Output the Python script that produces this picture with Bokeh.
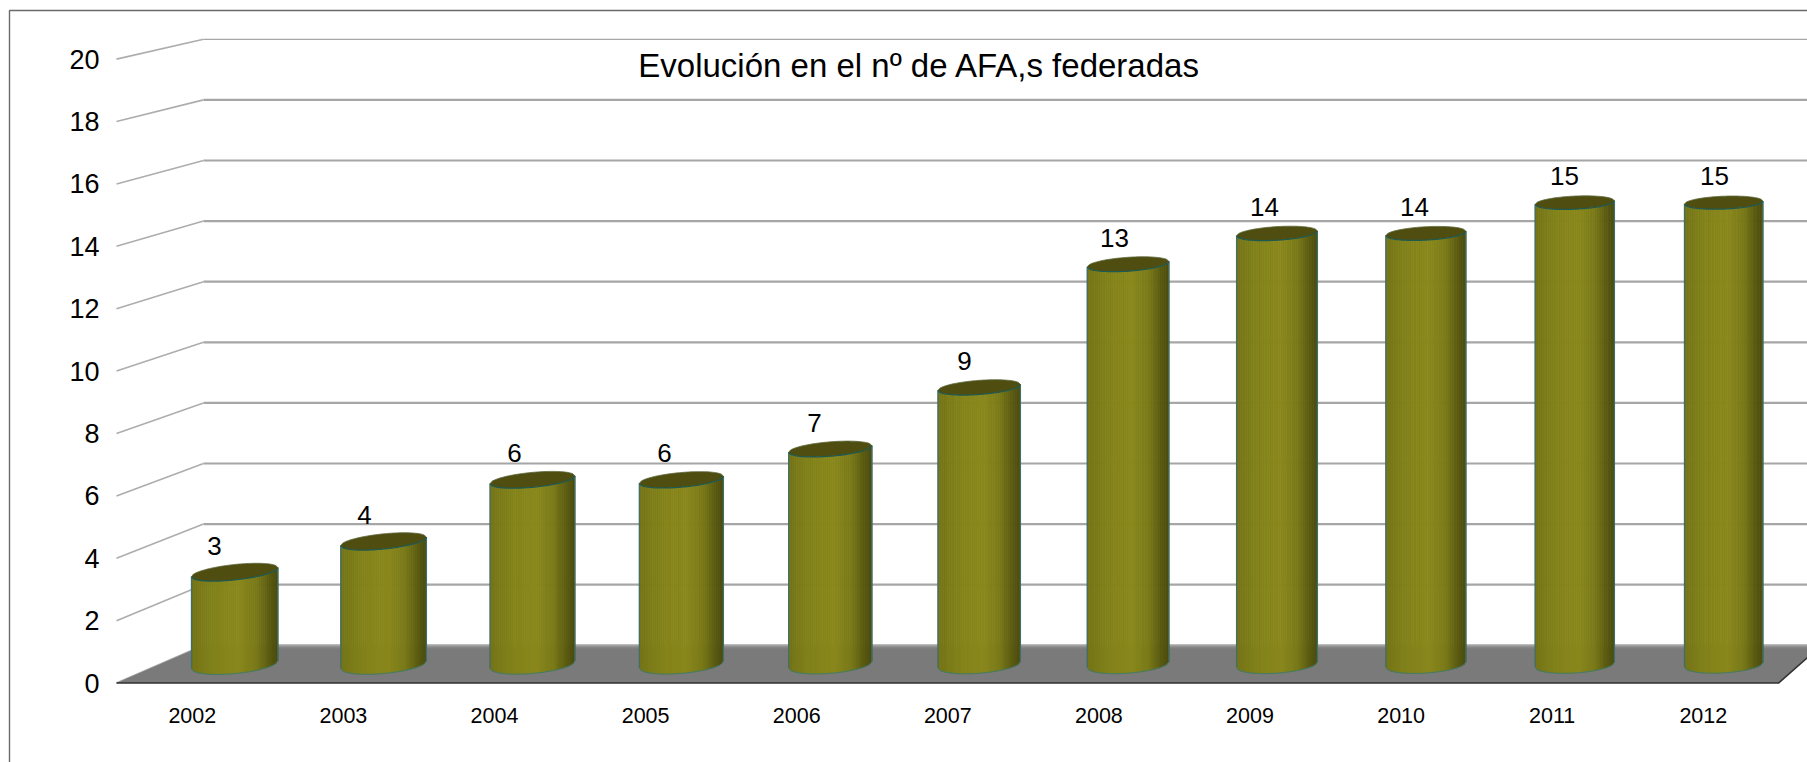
import numpy as np
from bokeh.plotting import figure
from bokeh.models import ColumnDataSource, FixedTicker, Label, LinearAxis, Range1d
from bokeh.core.properties import value
from bokeh.embed import file_html
from bokeh.resources import INLINE

years = ["2002", "2003", "2004", "2005", "2006", "2007", "2008", "2009", "2010", "2011", "2012"]
afas = [3, 4, 6, 6, 7, 9, 13, 14, 14, 15, 15]
y_ticks = [0, 2, 4, 6, 8, 10, 12, 14, 16, 18, 20]
title_text = "Evolución en el nº de AFA,s federadas"

FONT = "Liberation Sans"
# Pixel scale of the axes and of the oblique chart box
X_UNIT, Y_UNIT = 151.1, 31.2          # px per category, px per value on the front plane
X0_PX, Y0_PX = 191.8, 682.6           # page position of category 0 / value 0
BACK_Y0_PX, BACK_Y_UNIT = 644.8, 30.3 # back wall

def X(px):
    return (np.asarray(px, dtype=float) - X0_PX) / X_UNIT

def Y(py):
    return (Y0_PX - np.asarray(py, dtype=float)) / Y_UNIT

def back_y(v):
    return Y(BACK_Y0_PX - BACK_Y_UNIT * v)

W, H = 1807, 762
p = figure(
    width=W, height=H, output_backend="svg", toolbar_location=None,
    x_range=Range1d(float(X(0)), float(X(W))),
    y_range=Range1d(float(Y(H)), float(Y(0))),
    min_border_left=0, min_border_right=0, min_border_top=0, min_border_bottom=0,
    x_axis_type=None, y_axis_type=None,
    background_fill_color="white", border_fill_color="white", outline_line_color=None,
)
p.grid.visible = False

# Chart border
p.line(X([9, 9, W]), Y([H, 10, 10]), line_color="#6a6a6a", line_width=1.4)

# Back wall gridlines and the slanted left wall
FRONT_X, BACK_X = X(116), X(203)
for v in y_ticks:
    w = 1.3 if v == 20 else 2.2
    p.line([BACK_X, X(W)], [back_y(v), back_y(v)], line_color="#a6a6a6", line_width=w)
    p.line([FRONT_X, BACK_X], [v, back_y(v)], line_color="#adadad", line_width=1.6)

# Floor
floor_x = [FRONT_X, X(1778), X(1821), BACK_X]
floor_y = [0, 0, back_y(0), back_y(0)]
p.patch(floor_x, floor_y, fill_color="#7a7a7a", line_color=None)
for k, col in enumerate(["#a2a2a2", "#929292", "#868686", "#7f7f7f"]):
    d = 0.4 + k * 1.0
    yy = float(back_y(0) - d / Y_UNIT)
    p.line([BACK_X - 0.0008 * k, X(1821)], [yy, yy], line_color=col, line_width=1.2)
p.line([FRONT_X, X(1778), X(1821)], [0, 0, back_y(0)], line_color="#303030", line_width=1.5)

# Cylinders
stops_u = [0.0, 0.25, 0.55, 0.75, 0.9, 1.0]
stops_c = np.array([[0x74, 0x74, 0x18], [0x82, 0x82, 0x1a], [0x8a, 0x88, 0x1c],
                    [0x7a, 0x7a, 0x19], [0x5c, 0x5c, 0x11], [0x4a, 0x4a, 0x0e]], dtype=float)

def hexcol(t):
    c = [np.interp(t, stops_u, stops_c[:, j]) for j in range(3)]
    return "#%02x%02x%02x" % tuple(int(round(x)) for x in c)

N = 44
for i, v in enumerate(afas):
    cx = 234.2 + 148.9 * i
    a = 43.2 - 0.4 * i
    cy_bot = 664.1
    cy_top = cy_bot - 30.8 * v
    s_top, b_top = 4.5 - 0.3 * i, 7.7 - 0.13 * i
    s_bot, b_bot = 4.0 - 0.165 * i, 9.0 - 0.07 * i
    u = np.linspace(-1, 1, N + 1)
    root = np.sqrt(np.clip(1 - u ** 2, 0, 1))
    xs = cx + a * u
    y_low = cy_bot - s_bot * u + b_bot * root
    y_up = cy_top - s_top * u + b_top * root
    y_back = cy_top - s_top * u - b_top * root
    px_, py_, cols = [], [], []
    for k in range(N):
        px_.append(X([xs[k], xs[k + 1], xs[k + 1], xs[k]]))
        py_.append(Y([y_up[k], y_up[k + 1], y_low[k + 1], y_low[k]]))
        cols.append(hexcol((k + 0.5) / N))
    p.patches(xs=px_, ys=py_, fill_color=cols, line_color=cols, line_width=0.8)
    # Rims
    p.line(X(np.r_[xs[0], xs[0]]), Y(np.r_[y_up[0], y_low[0]]), line_color="#3f6f68", line_width=1.3)
    p.line(X(np.r_[xs[-1], xs[-1]]), Y(np.r_[y_up[-1], y_low[-1]]), line_color="#3f6f68", line_width=1.3)
    p.line(X(xs), Y(y_low), line_color="#3f7a70", line_width=1.0)
    p.patch(X(np.r_[xs, xs[::-1]]), Y(np.r_[y_up, y_back[::-1]]), fill_color="#4f4d10", line_color=None)
    p.line(X(xs), Y(y_back), line_color="#5d6a3c", line_width=0.8)
    p.line(X(xs), Y(y_up), line_color="#1f5a52", line_width=1.3)

# Value labels
lab = ColumnDataSource(dict(
    x=[float(X(234.0 + 148.9 * i - 20 + 1.1 * i)) for i in range(len(afas))],
    y=[float(Y(664.6 - 30.8 * v - 27)) for v in afas],
    t=[str(v) for v in afas],
))
p.text("x", "y", text="t", source=lab, text_font=value(FONT), text_font_size="26px",
       text_color="black", text_align="center", text_baseline="middle")

# Title
p.add_layout(Label(x=float(X(919)), y=float(Y(65)), text=title_text, text_font=FONT,
                   text_font_size="33px", text_color="black", text_align="center",
                   text_baseline="middle"))

# Axes: pinned to fixed data locations inside the full-canvas frame
yax = LinearAxis(ticker=FixedTicker(ticks=y_ticks), axis_line_color=None,
                 fixed_location=float(X(116)),
                 major_tick_line_color=None, minor_tick_line_color=None,
                 major_label_text_font=FONT, major_label_text_font_size="27px",
                 major_label_text_color="black", major_label_standoff=11)
p.add_layout(yax, "left")
xax = LinearAxis(ticker=FixedTicker(ticks=list(range(len(years)))), axis_line_color=None,
                 fixed_location=float(Y(686)),
                 major_tick_line_color=None, minor_tick_line_color=None,
                 major_label_overrides={i: y for i, y in enumerate(years)},
                 major_label_text_font=FONT, major_label_text_font_size="21.5px",
                 major_label_text_color="black", major_label_standoff=15)
p.add_layout(xax, "below")

open("out.html", "w").write(file_html(p, INLINE))
